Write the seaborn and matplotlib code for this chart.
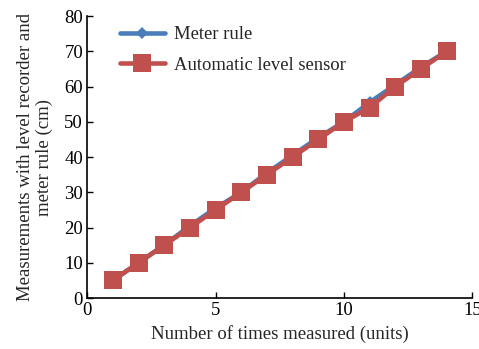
import matplotlib
matplotlib.use('Agg')
import matplotlib.pyplot as plt
import seaborn as sns
import pandas as pd

# measurement number
times = list(range(1, 15))
# readings in cm
meter_rule = [5, 10, 15, 20.5, 25.5, 30, 35.5, 40.5, 45.5, 50, 55.5, 60.5, 65.5, 70]
level_sensor = [5, 10, 15, 20, 25, 30, 35, 40, 45, 50, 54, 60, 65, 70]

df = pd.DataFrame({'times': times, 'Meter rule': meter_rule,
                   'Automatic level sensor': level_sensor})

sns.set_style('ticks')
plt.rcParams['font.family'] = ['Liberation Serif', 'DejaVu Serif']

fig = plt.figure(figsize=(4.79, 3.49), dpi=100)
ax = fig.add_axes([0.182, 0.146, 0.804, 0.808])

sns.lineplot(data=df, x='times', y='Meter rule', ax=ax, color='#4a7ebb',
             marker='D', markersize=6.5, linewidth=3.3, markeredgewidth=0,
             label='Meter rule')
sns.lineplot(data=df, x='times', y='Automatic level sensor', ax=ax, color='#c0504d',
             marker='s', markersize=12.5, linewidth=3.3, markeredgewidth=0,
             label='Automatic level sensor')

ax.set_xlim(0, 15)
ax.set_ylim(0, 80)
ax.set_xticks([0, 5, 10, 15])
ax.set_yticks(range(0, 81, 10))
ax.tick_params(direction='in', labelsize=13.5, length=4, width=1, colors='black', pad=3)
for s in ['left', 'bottom']:
    ax.spines[s].set_color('black')
    ax.spines[s].set_linewidth(1.2)
sns.despine(ax=ax)

ax.set_xlabel('Number of times measured (units)', fontsize=13.5, labelpad=4)
ax.set_ylabel('Measurements with level recorder and\nmeter rule (cm)', fontsize=13.5,
              labelpad=8, linespacing=1.15)

ax.legend(loc='upper left', bbox_to_anchor=(0.066, 0.99), frameon=False, fontsize=13.4,
          handlelength=2.4, borderaxespad=0, labelspacing=0.72, handletextpad=0.5)

fig.savefig('out.png', dpi=100)
